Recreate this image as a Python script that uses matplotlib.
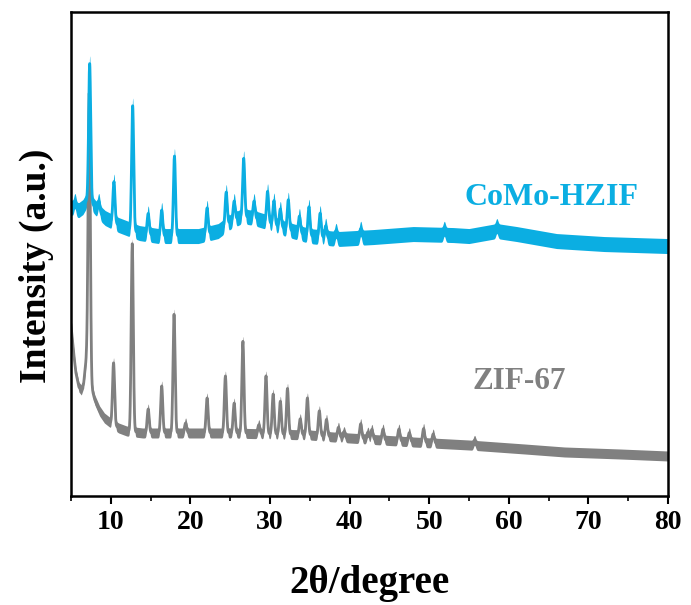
import matplotlib
matplotlib.use("Agg")
import matplotlib.pyplot as plt
import numpy as np

plt.rcParams['font.family'] = ['Liberation Serif', 'DejaVu Serif']
plt.rcParams['font.weight'] = 'bold'

# ZIF-67 : background points and peaks (2theta, net height)
zif_bg_x = [5.0, 5.3, 5.6, 6.0, 6.3, 6.6, 6.9, 7.1, 7.3, 7.6, 8.0, 8.6, 9.2, 10.0, 11.0, 12.0,
            14.0, 20.0, 25.0, 30.0, 35.0, 38.0, 42.0, 48.0, 55.0, 62.0, 67.0, 74.0, 80.0]
zif_bg_y = [1710, 1460, 1240, 1090, 1060, 1130, 1360, 1560, 1360, 1080, 960, 850, 780, 730, 680, 650,
            630, 630, 630, 620, 610, 590, 570, 540, 510, 470, 440, 420, 400]
zif_pk_x = [7.3, 10.35, 12.7, 14.7, 16.4, 17.95, 19.4, 22.1, 24.4, 25.5, 26.6, 28.6, 29.5, 30.4,
            31.3, 32.2, 33.8, 34.7, 36.2, 37.1, 38.6, 39.3, 41.4, 42.3, 42.8, 44.2, 46.2, 47.5,
            49.3, 50.5, 55.7]
zif_pk_h = [2670, 620, 1880, 240, 470, 1190, 100, 350, 570, 300, 920, 90, 580, 400,
            330, 460, 160, 370, 250, 170, 100, 60, 150, 70, 100, 110, 120, 90,
            140, 90, 50]

# CoMo-HZIF
hzif_bg_x = [5.0, 5.5, 6.0, 6.5, 7.0, 7.8, 8.5, 9.3, 11.0, 13.6, 16.0, 21.0, 23.5, 25.0, 26.5,
             28.0, 30.0, 32.0, 35.0, 38.5, 43.0, 48.0, 53.0, 55.0, 58.5, 61.0, 66.0, 72.0, 80.0]
hzif_bg_y = [2890, 2860, 2860, 2890, 2960, 2910, 2840, 2780, 2710, 2630, 2600, 2600, 2650, 2740, 2800,
             2780, 2730, 2670, 2600, 2570, 2590, 2620, 2610, 2600, 2650, 2620, 2550, 2520, 2500]
hzif_pk_x = [5.5, 7.35, 8.5, 10.4, 12.75, 14.7, 16.4, 18.0, 22.1, 24.5, 25.5, 26.7, 28.0, 29.7,
             30.5, 31.3, 32.3, 33.7, 34.9, 36.3, 37.0, 38.3, 41.4, 51.9, 58.5]
hzif_pk_h = [90, 1390, 110, 410, 1250, 210, 260, 800, 260, 330, 190, 580, 170, 310,
             240, 180, 300, 170, 290, 240, 120, 80, 90, 60, 50]

two_theta = np.arange(5.0, 80.0001, 0.02)


def pattern(bg_x, bg_y, pk_x, pk_h, w=0.13):
    y = np.interp(two_theta, bg_x, bg_y).astype(float)
    for p, h in zip(pk_x, pk_h):
        y += h * np.exp(-0.5 * ((two_theta - p) / w) ** 2)
    return y


zif = pattern(zif_bg_x, zif_bg_y, zif_pk_x, zif_pk_h)
hzif = pattern(hzif_bg_x, hzif_bg_y, hzif_pk_x, hzif_pk_h)

gray = '#808080'
blue = '#0BAEE2'

fig = plt.figure(figsize=(6.91, 6.05), dpi=100)
ax = fig.add_axes([0.1027, 0.1802, 0.8640, 0.7998])

# measured noise shows up as a thick band around the trace
ax.fill_between(two_theta, zif - 50, zif + 50, color=gray, lw=0)
ax.plot(two_theta, zif, color=gray, lw=2.0)
ax.fill_between(two_theta, hzif - 75, hzif + 75, color=blue, lw=0)
ax.plot(two_theta, hzif, color=blue, lw=2.0)

ax.text(65.4, 2990, 'CoMo-HZIF', color=blue, fontsize=23, fontweight='bold',
        ha='center', va='center')
ax.text(61.3, 1150, 'ZIF-67', color=gray, fontsize=22.5, fontweight='bold',
        ha='center', va='center')

ax.set_xlim(5, 80)
ax.set_ylim(0, 4840)
ax.set_xticks(np.arange(10, 81, 10))
ax.set_xticks(np.arange(5, 81, 5), minor=True)
ax.set_yticks([])
ax.tick_params(axis='x', which='major', direction='out', length=6, width=1.5,
               labelsize=20, pad=4)
ax.tick_params(axis='x', which='minor', direction='out', length=3.5, width=1.2)
for s in ax.spines.values():
    s.set_linewidth(1.8)

ax.set_xlabel('2θ/degree', fontsize=28, fontweight='bold', labelpad=22)
ax.set_ylabel('Intensity (a.u.)', fontsize=27, fontweight='bold', labelpad=12, y=0.475)

plt.savefig('out.png', dpi=100)
